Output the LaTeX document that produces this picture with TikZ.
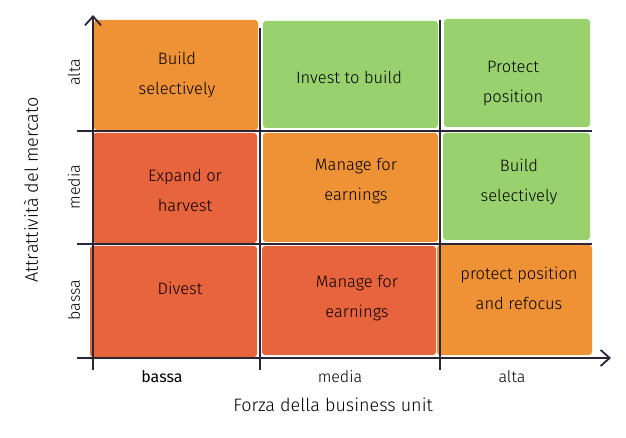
\documentclass[tikz,border=0pt]{standalone}
\usepackage{fontspec}
\setmainfont{Fira Sans Light}
\newfontfamily\heavier{Fira Sans}
\usetikzlibrary{arrows.meta}
\definecolor{cOr}{HTML}{EF9135}
\definecolor{cGr}{HTML}{98D16E}
\definecolor{cRd}{HTML}{E8643D}
\definecolor{cLn}{HTML}{2A2535}
\begin{document}
\begin{tikzpicture}[x=1pt,y=-1pt,
  cell/.style={rounded corners=3pt},
  grid/.style={cLn, line width=1.8pt},
  axis/.style={cLn, line width=1.8pt, -{Straight Barb[length=9pt,width=16pt,line width=1.8pt]}},
  lbl/.style={align=center, font=\fontsize{16.5}{30}\selectfont, text=black, inner sep=0pt},
  tick/.style={font=\fontsize{16}{18}\selectfont, inner sep=0pt},
  ttl/.style={font=\fontsize{18}{20}\selectfont, inner sep=0pt}]
\useasboundingbox (0,0) rectangle (626,438);
% cells
\fill[cOr,cell] (94,20) rectangle (258,130);
\fill[cGr,cell] (263,21) rectangle (438,128);
\fill[cGr,cell] (444,19) rectangle (590,127);
\fill[cRd,cell] (93,133) rectangle (257,243);
\fill[cOr,cell] (263,133) rectangle (438,242);
\fill[cGr,cell] (443,133) rectangle (590,240);
\fill[cRd,cell] (90,246) rectangle (257,357);
\fill[cRd,cell] (262,246) rectangle (436,355);
\fill[cOr,cell] (437,245) rectangle (592,355);
% coordinates
\coordinate (yb) at (93,370);
\coordinate (yt) at (93,15);
\coordinate (xl) at (77,358);
\coordinate (xr) at (611,358);
\coordinate (h1a) at (77,131);
\coordinate (h1b) at (592,131);
\coordinate (h2a) at (77,244);
\coordinate (h2b) at (592,244);
\coordinate (v1a) at (260,28);
\coordinate (v1b) at (260,370);
\coordinate (v2a) at (440,20);
\coordinate (v2b) at (440,370);
% grid
\draw[grid] (h1a) -- (h1b);
\draw[grid] (h2a) -- (h2b);
\draw[grid] (v1a) -- (v1b);
\draw[grid] (v2a) -- (v2b);
\draw[axis] (yb) -- (yt);
\draw[axis] (xl) -- (xr);
% cell labels
\node[lbl] (a1) at (177,75) {Build\\selectively};
\node[lbl] (a2) at (349,77) {Invest to build};
\node[lbl] (a3) at (513,84) {Protect\\position};
\node[lbl] (b1) at (185,190) {Expand or\\harvest};
\node[lbl] (b2) at (356,181) {Manage for\\earnings};
\node[lbl] (b3) at (519,182) {Build\\selectively};
\node[lbl] (c1) at (180,288) {Divest};
\node[lbl] (c2) at (357,298) {Manage for\\earnings};
\node[lbl] (c3) at (519,288) {protect position\\and refocus};
% axis ticks
\node[tick,font=\heavier\fontsize{16}{18}\selectfont] (xb) at (162,377) {bassa};
\node[tick] (xm) at (340,377) {media};
\node[tick] (xa) at (512,377) {alta};
\node[tick,rotate=90] (ya) at (74,72) {alta};
\node[tick,rotate=90] (ym) at (74,187) {media};
\node[tick,rotate=90] (ys) at (74,300) {bassa};
\node[ttl] (xt) at (333,405) {Forza della business unit};
\node[ttl,rotate=90] (yt2) at (31,190) {Attrattività del mercato};
\end{tikzpicture}
\end{document}
